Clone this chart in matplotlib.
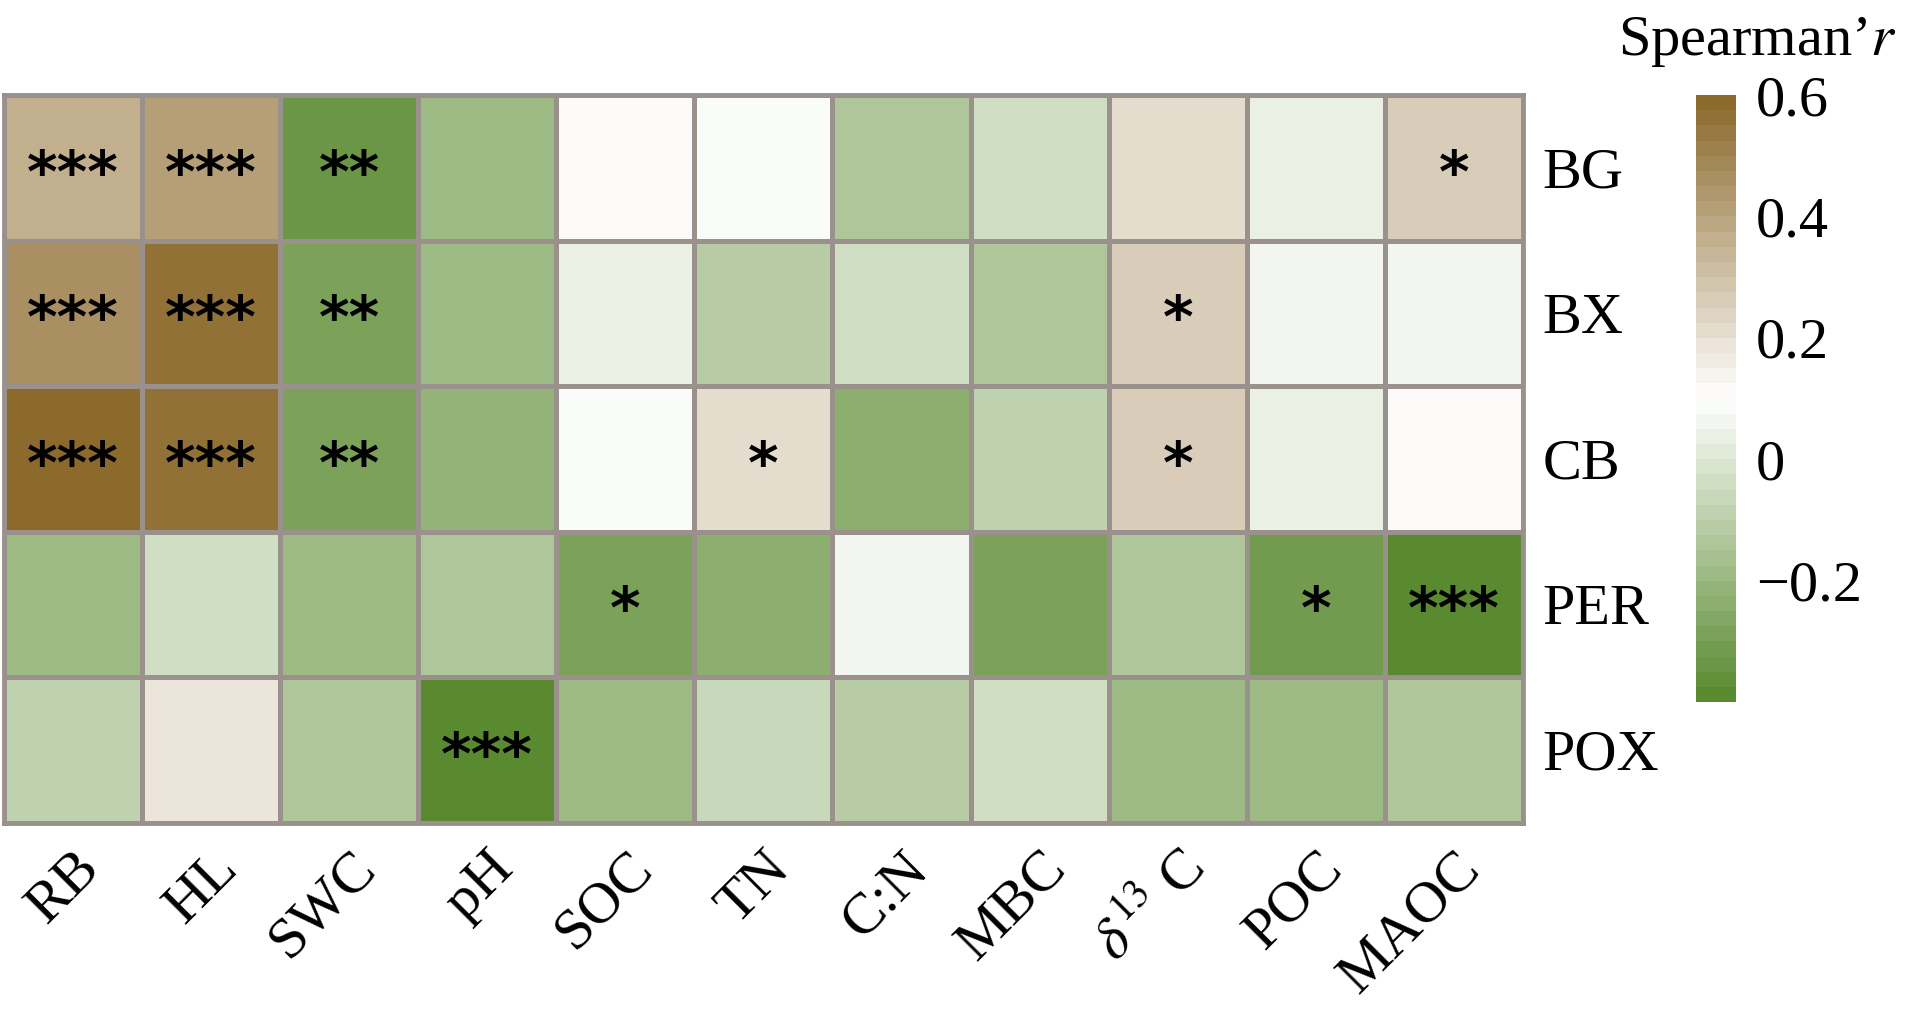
import numpy as np
import matplotlib.pyplot as plt
from matplotlib.colors import LinearSegmentedColormap, ListedColormap, Normalize

plt.rcParams['font.family'] = ['Liberation Serif', 'DejaVu Serif']
plt.rcParams['mathtext.fontset'] = 'stix'

cols = ['RB', 'HL', 'SWC', 'pH', 'SOC', 'TN', 'C:N', 'MBC', r'$\delta^{13}$ C', 'POC', 'MAOC']
rows = ['BG', 'BX', 'CB', 'PER', 'POX']
vals = np.array([
    [0.35, 0.40, -0.35, -0.20, 0.10, 0.08, -0.15, -0.05, 0.20, 0.03, 0.25],
    [0.45, 0.55, -0.30, -0.18, 0.03, -0.12, -0.05, -0.15, 0.25, 0.05, 0.05],
    [0.60, 0.55, -0.30, -0.22, 0.08, 0.22, -0.25, -0.08, 0.25, 0.04, 0.10],
    [-0.20, -0.05, -0.20, -0.15, -0.28, -0.25, 0.06, -0.28, -0.15, -0.32, -0.38],
    [-0.08, 0.18, -0.15, -0.38, -0.18, -0.07, -0.12, -0.05, -0.20, -0.20, -0.15],
])
stars = [
    ['***', '***', '**', '', '', '', '', '', '', '', '*'],
    ['***', '***', '**', '', '', '', '', '', '*', '', ''],
    ['***', '***', '**', '', '', '*', '', '', '*', '', ''],
    ['', '', '', '', '*', '', '', '', '', '*', '***'],
    ['', '', '', '***', '', '', '', '', '', '', ''],
]

base = LinearSegmentedColormap.from_list('gb', ['#5a8a30', '#ffffff', '#8c6a2c'])
cmap = ListedColormap(base(np.linspace(0, 1, 40)))
norm = Normalize(-0.4, 0.6)

fig = plt.figure(figsize=(19.06, 10.22), dpi=100)
ax = fig.add_axes([0.002, 0.195, 0.797, 0.712])
mesh = ax.pcolormesh(vals, cmap=cmap, norm=norm, edgecolors='#9b918c', linewidth=3.5)
ax.set_xlim(0, len(cols))
ax.set_ylim(len(rows), 0)
for i in range(len(rows)):
    for j in range(len(cols)):
        if stars[i][j]:
            ax.text(j + 0.5, i + 0.55, stars[i][j], ha='center', va='center',
                    fontsize=42, fontweight='bold', family='DejaVu Sans')
for s in ax.spines.values():
    s.set_color('#9b918c')
    s.set_linewidth(3.5)
ax.yaxis.tick_right()
ax.set_yticks(np.arange(len(rows)) + 0.5)
ax.set_yticklabels(rows, fontsize=42)
ax.set_xticks(np.arange(len(cols)) + 0.5)
ax.set_xticklabels(cols, fontsize=42, rotation=45, ha='right', rotation_mode='anchor')
ax.tick_params(length=0, pad=14)

cax = fig.add_axes([0.89, 0.313, 0.021, 0.594])
cb = fig.colorbar(mesh, cax=cax, ticks=[-0.2, 0, 0.2, 0.4, 0.6])
cb.ax.set_yticklabels(['\u22120.2', '0', '0.2', '0.4', '0.6'], fontsize=42)
cb.ax.minorticks_off()
cb.ax.tick_params(length=0, pad=14)
cb.outline.set_visible(False)
fig.text(0.995, 0.985, "Spearman\u2019$r$", ha='right', va='top', fontsize=42)

fig.savefig('out.png', dpi=100)
